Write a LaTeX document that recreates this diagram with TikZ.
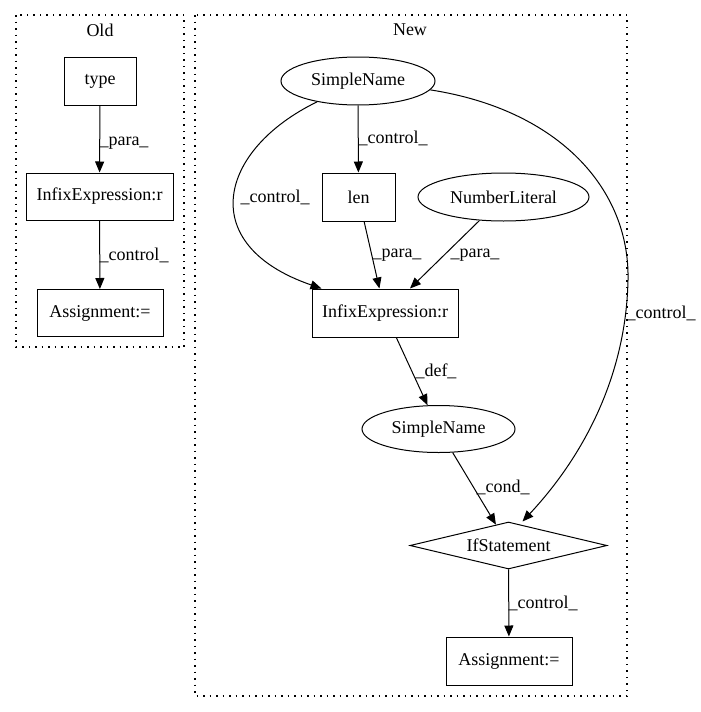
\documentclass[tikz,border=0pt]{standalone}
\usepackage{fontspec}
\setmainfont{Liberation Serif}
\usetikzlibrary{shapes.geometric,arrows.meta}
\begin{document}
\begin{tikzpicture}[x=1pt,y=-1pt,
  every node/.style={font=\fontsize{18}{20}\selectfont, inner sep=0pt},
  box/.style={draw, line width=1pt, rectangle},
  ell/.style={draw, line width=1pt, ellipse},
  dia/.style={draw, line width=1pt, diamond},
  lbl/.style={font=\fontsize{18}{20}\selectfont},
  edge/.style={draw, line width=1pt, -{Triangle[length=11pt,width=9pt]}},
  cluster/.style={draw, line width=1.2pt, dash pattern=on 1.5pt off 5pt}]
\useasboundingbox (0,0) rectangle (701,712);
\fill[white] (0,0) rectangle (701,712);
% clusters
\draw[cluster] (16,15) rectangle (184,347);
\node (oldlbl) at (100,30) {Old};
\draw[cluster] (195,15) rectangle (627,696);
\node (newlbl) at (410,30) {New};
% Old nodes
\node[box, minimum width=72pt, minimum height=48pt] (type) at (100,81) {type};
\node[box, minimum width=147pt, minimum height=47pt] (oinf) at (99.5,196.5) {InfixExpression:r};
\node[box, minimum width=126pt, minimum height=47pt] (oasg) at (100,313) {Assignment:=};
\draw[edge] (type) -- (oinf);
\draw[edge] (oinf) -- (oasg);
\node[lbl] (l1) at (124,143) {\_para\_};
\node[lbl] (l2) at (134,255) {\_control\_};
% New nodes
\node[ell, minimum width=154pt, minimum height=48pt] (sn1) at (358,81) {SimpleName};
\node[box, minimum width=73pt, minimum height=48pt] (len) at (358.5,197) {len};
\node[ell, minimum width=171pt, minimum height=48pt] (nl) at (503.5,197) {NumberLiteral};
\node[box, minimum width=146pt, minimum height=48pt] (ninf) at (385,313) {InfixExpression:r};
\node[ell, minimum width=153pt, minimum height=47pt] (sn2) at (438.5,429) {SimpleName};
\node[dia, aspect=4.19, minimum width=197pt, minimum height=47pt] (ifs) at (508.5,545.5) {IfStatement};
\node[box, minimum width=126pt, minimum height=48pt] (nasg) at (509,661) {Assignment:=};
% New edges
\draw[edge] (sn1) -- (len);
\draw[edge] (sn1.-153) .. controls (218,150) and (195,245) .. ([xshift=10pt]ninf.north west);
\draw[edge] (len) -- (ninf);
\draw[edge] (nl) -- (ninf);
\draw[edge] (sn1.-7) .. controls (560,110) and (630,190) .. (628,280) .. controls (626,380) and (580,460) .. ([xshift=14pt]ifs.north);
\draw[edge] (ninf) -- (sn2);
\draw[edge] (sn2) -- (ifs);
\draw[edge] (ifs) -- (nasg);
% labels
\node[lbl] (l3) at (393,138) {\_control\_};
\node[lbl] (l4) at (275,197) {\_control\_};
\node[lbl] (l5) at (397,255) {\_para\_};
\node[lbl] (l6) at (475,255) {\_para\_};
\node[lbl] (l7) at (661,313) {\_control\_};
\node[lbl] (l8) at (436,371) {\_def\_};
\node[lbl] (l9) at (503,487) {\_cond\_};
\node[lbl] (l10) at (543,603) {\_control\_};
\end{tikzpicture}
\end{document}
